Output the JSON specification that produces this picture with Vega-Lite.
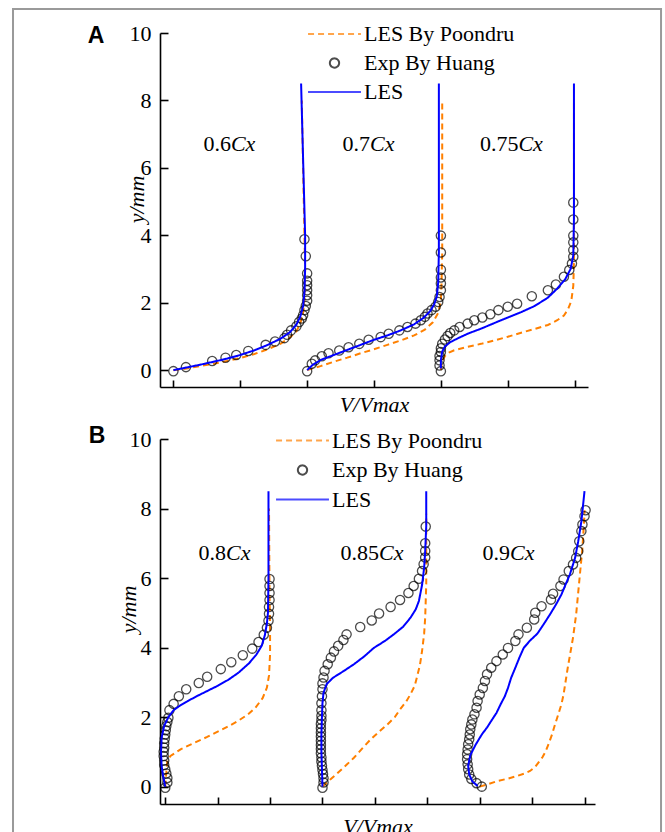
{
"$schema": "https://vega.github.io/schema/vega-lite/v6.json",
"padding": {"left": 12, "top": 7, "right": 0, "bottom": 0},
"spacing": 52,
"bounds": "flush",
"config": {
  "view": {"stroke": null},
  "font": "Liberation Serif",
  "axis": {"domainColor": "black", "domainWidth": 1.6, "tickColor": "black", "tickWidth": 1.6, "grid": false,
    "labelFont": "Liberation Serif", "labelFontSize": 22, "labelColor": "black",
    "titleFont": "Liberation Serif", "titleFontSize": 22, "titleFontStyle": "italic", "titleFontWeight": "normal", "titleColor": "black"},
  "legend": {"labelFont": "Liberation Serif", "labelFontSize": 22, "labelColor": "black", "labelLimit": 400,
    "symbolStrokeWidth": 2, "symbolSize": 2800, "padding": 0, "rowPadding": 1.5, "clipHeight": 28, "labelOffset": 2}
},
"resolve": {"scale": {"color": "independent", "shape": "independent", "strokeDash": "independent", "x": "independent", "y": "independent"}},
"datasets": {
"A": [
{"c":"0.6","s":"LES By Poondru","x":0,"y":0},{"c":"0.6","s":"LES By Poondru","x":0.1,"y":0.05},{"c":"0.6","s":"LES By Poondru","x":0.2,"y":0.12},{"c":"0.6","s":"LES By Poondru","x":0.3,"y":0.19},{"c":"0.6","s":"LES By Poondru","x":0.4,"y":0.27},{"c":"0.6","s":"LES By Poondru","x":0.5,"y":0.36},{"c":"0.6","s":"LES By Poondru","x":0.6,"y":0.47},{"c":"0.6","s":"LES By Poondru","x":0.7,"y":0.61},{"c":"0.6","s":"LES By Poondru","x":0.8,"y":0.78},{"c":"0.6","s":"LES By Poondru","x":0.87,"y":0.96},{"c":"0.6","s":"LES By Poondru","x":0.92,"y":1.15},{"c":"0.6","s":"LES By Poondru","x":0.95,"y":1.4},{"c":"0.6","s":"LES By Poondru","x":0.97,"y":1.7},{"c":"0.6","s":"LES By Poondru","x":0.98,"y":2.1},{"c":"0.6","s":"LES By Poondru","x":0.985,"y":3},{"c":"0.6","s":"LES By Poondru","x":0.98,"y":4},{"c":"0.6","s":"LES By Poondru","x":0.96,"y":8},
{"c":"0.7","s":"LES By Poondru","x":1.0,"y":0},{"c":"0.7","s":"LES By Poondru","x":1.1,"y":0.12},{"c":"0.7","s":"LES By Poondru","x":1.2,"y":0.25},{"c":"0.7","s":"LES By Poondru","x":1.3,"y":0.37},{"c":"0.7","s":"LES By Poondru","x":1.4,"y":0.5},{"c":"0.7","s":"LES By Poondru","x":1.5,"y":0.62},{"c":"0.7","s":"LES By Poondru","x":1.6,"y":0.75},{"c":"0.7","s":"LES By Poondru","x":1.7,"y":0.88},{"c":"0.7","s":"LES By Poondru","x":1.8,"y":1.03},{"c":"0.7","s":"LES By Poondru","x":1.88,"y":1.2},{"c":"0.7","s":"LES By Poondru","x":1.94,"y":1.42},{"c":"0.7","s":"LES By Poondru","x":1.98,"y":1.7},{"c":"0.7","s":"LES By Poondru","x":2.0,"y":2.05},{"c":"0.7","s":"LES By Poondru","x":2.005,"y":2.6},{"c":"0.7","s":"LES By Poondru","x":2.01,"y":3.5},{"c":"0.7","s":"LES By Poondru","x":2.01,"y":8},
{"c":"0.75","s":"LES By Poondru","x":2.0,"y":0},{"c":"0.75","s":"LES By Poondru","x":2.005,"y":0.15},{"c":"0.75","s":"LES By Poondru","x":2.015,"y":0.3},{"c":"0.75","s":"LES By Poondru","x":2.03,"y":0.42},{"c":"0.75","s":"LES By Poondru","x":2.06,"y":0.52},{"c":"0.75","s":"LES By Poondru","x":2.1,"y":0.59},{"c":"0.75","s":"LES By Poondru","x":2.2,"y":0.69},{"c":"0.75","s":"LES By Poondru","x":2.3,"y":0.78},{"c":"0.75","s":"LES By Poondru","x":2.4,"y":0.88},{"c":"0.75","s":"LES By Poondru","x":2.5,"y":0.99},{"c":"0.75","s":"LES By Poondru","x":2.6,"y":1.11},{"c":"0.75","s":"LES By Poondru","x":2.7,"y":1.22},{"c":"0.75","s":"LES By Poondru","x":2.8,"y":1.34},{"c":"0.75","s":"LES By Poondru","x":2.87,"y":1.48},{"c":"0.75","s":"LES By Poondru","x":2.92,"y":1.62},{"c":"0.75","s":"LES By Poondru","x":2.95,"y":1.8},{"c":"0.75","s":"LES By Poondru","x":2.975,"y":2.05},{"c":"0.75","s":"LES By Poondru","x":2.99,"y":2.5},{"c":"0.75","s":"LES By Poondru","x":2.995,"y":3.2},{"c":"0.75","s":"LES By Poondru","x":2.995,"y":8},
{"c":"0.6","s":"LES","x":0,"y":0},{"c":"0.6","s":"LES","x":0.1,"y":0.08},{"c":"0.6","s":"LES","x":0.2,"y":0.16},{"c":"0.6","s":"LES","x":0.3,"y":0.25},{"c":"0.6","s":"LES","x":0.4,"y":0.34},{"c":"0.6","s":"LES","x":0.5,"y":0.45},{"c":"0.6","s":"LES","x":0.6,"y":0.58},{"c":"0.6","s":"LES","x":0.7,"y":0.74},{"c":"0.6","s":"LES","x":0.8,"y":0.93},{"c":"0.6","s":"LES","x":0.87,"y":1.12},{"c":"0.6","s":"LES","x":0.92,"y":1.35},{"c":"0.6","s":"LES","x":0.95,"y":1.6},{"c":"0.6","s":"LES","x":0.97,"y":1.9},{"c":"0.6","s":"LES","x":0.98,"y":2.3},{"c":"0.6","s":"LES","x":0.985,"y":3},{"c":"0.6","s":"LES","x":0.985,"y":4},{"c":"0.6","s":"LES","x":0.955,"y":8.5},
{"c":"0.7","s":"LES","x":1.0,"y":0},{"c":"0.7","s":"LES","x":1.04,"y":0.15},{"c":"0.7","s":"LES","x":1.1,"y":0.3},{"c":"0.7","s":"LES","x":1.2,"y":0.45},{"c":"0.7","s":"LES","x":1.3,"y":0.6},{"c":"0.7","s":"LES","x":1.4,"y":0.75},{"c":"0.7","s":"LES","x":1.5,"y":0.9},{"c":"0.7","s":"LES","x":1.6,"y":1.03},{"c":"0.7","s":"LES","x":1.7,"y":1.18},{"c":"0.7","s":"LES","x":1.8,"y":1.36},{"c":"0.7","s":"LES","x":1.87,"y":1.55},{"c":"0.7","s":"LES","x":1.92,"y":1.75},{"c":"0.7","s":"LES","x":1.95,"y":1.95},{"c":"0.7","s":"LES","x":1.97,"y":2.2},{"c":"0.7","s":"LES","x":1.98,"y":2.6},{"c":"0.7","s":"LES","x":1.985,"y":3.5},{"c":"0.7","s":"LES","x":1.985,"y":8.5},
{"c":"0.75","s":"LES","x":2.0,"y":0.05},{"c":"0.75","s":"LES","x":2.0,"y":0.3},{"c":"0.75","s":"LES","x":2.01,"y":0.55},{"c":"0.75","s":"LES","x":2.03,"y":0.7},{"c":"0.75","s":"LES","x":2.07,"y":0.83},{"c":"0.75","s":"LES","x":2.13,"y":0.95},{"c":"0.75","s":"LES","x":2.2,"y":1.08},{"c":"0.75","s":"LES","x":2.3,"y":1.23},{"c":"0.75","s":"LES","x":2.45,"y":1.48},{"c":"0.75","s":"LES","x":2.6,"y":1.72},{"c":"0.75","s":"LES","x":2.7,"y":1.9},{"c":"0.75","s":"LES","x":2.8,"y":2.15},{"c":"0.75","s":"LES","x":2.87,"y":2.42},{"c":"0.75","s":"LES","x":2.93,"y":2.7},{"c":"0.75","s":"LES","x":2.97,"y":3.0},{"c":"0.75","s":"LES","x":2.99,"y":3.4},{"c":"0.75","s":"LES","x":2.995,"y":4.5},{"c":"0.75","s":"LES","x":2.995,"y":8.5},
{"c":"0.6","s":"Exp By Huang","x":0,"y":-0.03},{"c":"0.6","s":"Exp By Huang","x":0.094,"y":0.09},{"c":"0.6","s":"Exp By Huang","x":0.29,"y":0.27},{"c":"0.6","s":"Exp By Huang","x":0.39,"y":0.37},{"c":"0.6","s":"Exp By Huang","x":0.47,"y":0.45},{"c":"0.6","s":"Exp By Huang","x":0.56,"y":0.57},{"c":"0.6","s":"Exp By Huang","x":0.69,"y":0.75},{"c":"0.6","s":"Exp By Huang","x":0.76,"y":0.85},{"c":"0.6","s":"Exp By Huang","x":0.83,"y":0.95},{"c":"0.6","s":"Exp By Huang","x":0.85,"y":1.05},{"c":"0.6","s":"Exp By Huang","x":0.88,"y":1.18},{"c":"0.6","s":"Exp By Huang","x":0.92,"y":1.3},{"c":"0.6","s":"Exp By Huang","x":0.94,"y":1.43},{"c":"0.6","s":"Exp By Huang","x":0.96,"y":1.53},{"c":"0.6","s":"Exp By Huang","x":0.97,"y":1.63},{"c":"0.6","s":"Exp By Huang","x":0.98,"y":1.78},{"c":"0.6","s":"Exp By Huang","x":0.99,"y":1.9},{"c":"0.6","s":"Exp By Huang","x":1.0,"y":2.06},{"c":"0.6","s":"Exp By Huang","x":1.0,"y":2.22},{"c":"0.6","s":"Exp By Huang","x":1.0,"y":2.37},{"c":"0.6","s":"Exp By Huang","x":1.0,"y":2.52},{"c":"0.6","s":"Exp By Huang","x":1.0,"y":2.65},{"c":"0.6","s":"Exp By Huang","x":1.0,"y":2.87},{"c":"0.6","s":"Exp By Huang","x":0.99,"y":3.38},{"c":"0.6","s":"Exp By Huang","x":0.98,"y":3.88},
{"c":"0.7","s":"Exp By Huang","x":1.0,"y":-0.03},{"c":"0.7","s":"Exp By Huang","x":1.035,"y":0.19},{"c":"0.7","s":"Exp By Huang","x":1.06,"y":0.29},{"c":"0.7","s":"Exp By Huang","x":1.11,"y":0.41},{"c":"0.7","s":"Exp By Huang","x":1.16,"y":0.5},{"c":"0.7","s":"Exp By Huang","x":1.24,"y":0.58},{"c":"0.7","s":"Exp By Huang","x":1.31,"y":0.68},{"c":"0.7","s":"Exp By Huang","x":1.39,"y":0.78},{"c":"0.7","s":"Exp By Huang","x":1.46,"y":0.9},{"c":"0.7","s":"Exp By Huang","x":1.55,"y":0.98},{"c":"0.7","s":"Exp By Huang","x":1.61,"y":1.08},{"c":"0.7","s":"Exp By Huang","x":1.69,"y":1.18},{"c":"0.7","s":"Exp By Huang","x":1.75,"y":1.28},{"c":"0.7","s":"Exp By Huang","x":1.81,"y":1.38},{"c":"0.7","s":"Exp By Huang","x":1.85,"y":1.48},{"c":"0.7","s":"Exp By Huang","x":1.88,"y":1.58},{"c":"0.7","s":"Exp By Huang","x":1.9,"y":1.68},{"c":"0.7","s":"Exp By Huang","x":1.93,"y":1.78},{"c":"0.7","s":"Exp By Huang","x":1.96,"y":1.88},{"c":"0.7","s":"Exp By Huang","x":1.98,"y":2.02},{"c":"0.7","s":"Exp By Huang","x":1.99,"y":2.17},{"c":"0.7","s":"Exp By Huang","x":2.0,"y":2.37},{"c":"0.7","s":"Exp By Huang","x":2.0,"y":2.57},{"c":"0.7","s":"Exp By Huang","x":2.0,"y":2.75},{"c":"0.7","s":"Exp By Huang","x":2.0,"y":2.98},{"c":"0.7","s":"Exp By Huang","x":2.0,"y":3.49},{"c":"0.7","s":"Exp By Huang","x":2.0,"y":3.99},
{"c":"0.75","s":"Exp By Huang","x":2.0,"y":-0.03},{"c":"0.75","s":"Exp By Huang","x":1.99,"y":0.14},{"c":"0.75","s":"Exp By Huang","x":1.99,"y":0.29},{"c":"0.75","s":"Exp By Huang","x":1.99,"y":0.42},{"c":"0.75","s":"Exp By Huang","x":2.0,"y":0.54},{"c":"0.75","s":"Exp By Huang","x":2.0,"y":0.65},{"c":"0.75","s":"Exp By Huang","x":2.01,"y":0.78},{"c":"0.75","s":"Exp By Huang","x":2.03,"y":0.91},{"c":"0.75","s":"Exp By Huang","x":2.05,"y":1.01},{"c":"0.75","s":"Exp By Huang","x":2.07,"y":1.1},{"c":"0.75","s":"Exp By Huang","x":2.1,"y":1.18},{"c":"0.75","s":"Exp By Huang","x":2.14,"y":1.28},{"c":"0.75","s":"Exp By Huang","x":2.2,"y":1.38},{"c":"0.75","s":"Exp By Huang","x":2.25,"y":1.48},{"c":"0.75","s":"Exp By Huang","x":2.31,"y":1.56},{"c":"0.75","s":"Exp By Huang","x":2.37,"y":1.66},{"c":"0.75","s":"Exp By Huang","x":2.43,"y":1.78},{"c":"0.75","s":"Exp By Huang","x":2.5,"y":1.88},{"c":"0.75","s":"Exp By Huang","x":2.57,"y":1.97},{"c":"0.75","s":"Exp By Huang","x":2.68,"y":2.19},{"c":"0.75","s":"Exp By Huang","x":2.8,"y":2.37},{"c":"0.75","s":"Exp By Huang","x":2.86,"y":2.54},{"c":"0.75","s":"Exp By Huang","x":2.92,"y":2.77},{"c":"0.75","s":"Exp By Huang","x":2.96,"y":2.97},{"c":"0.75","s":"Exp By Huang","x":2.98,"y":3.16},{"c":"0.75","s":"Exp By Huang","x":2.99,"y":3.36},{"c":"0.75","s":"Exp By Huang","x":2.99,"y":3.56},{"c":"0.75","s":"Exp By Huang","x":2.99,"y":3.79},{"c":"0.75","s":"Exp By Huang","x":2.99,"y":3.99},{"c":"0.75","s":"Exp By Huang","x":2.99,"y":4.47},{"c":"0.75","s":"Exp By Huang","x":2.99,"y":4.97}
],
"B": [
{"c":"0.8","s":"LES By Poondru","x":0.0,"y":0},{"c":"0.8","s":"LES By Poondru","x":0.01,"y":0.4},{"c":"0.8","s":"LES By Poondru","x":0.02,"y":0.75},{"c":"0.8","s":"LES By Poondru","x":0.05,"y":0.88},{"c":"0.8","s":"LES By Poondru","x":0.15,"y":1.08},{"c":"0.8","s":"LES By Poondru","x":0.27,"y":1.25},{"c":"0.8","s":"LES By Poondru","x":0.4,"y":1.43},{"c":"0.8","s":"LES By Poondru","x":0.5,"y":1.58},{"c":"0.8","s":"LES By Poondru","x":0.6,"y":1.73},{"c":"0.8","s":"LES By Poondru","x":0.7,"y":1.9},{"c":"0.8","s":"LES By Poondru","x":0.79,"y":2.08},{"c":"0.8","s":"LES By Poondru","x":0.86,"y":2.27},{"c":"0.8","s":"LES By Poondru","x":0.93,"y":2.55},{"c":"0.8","s":"LES By Poondru","x":0.97,"y":2.85},{"c":"0.8","s":"LES By Poondru","x":0.99,"y":3.2},{"c":"0.8","s":"LES By Poondru","x":1.0,"y":3.8},{"c":"0.8","s":"LES By Poondru","x":1.0,"y":4.6},{"c":"0.8","s":"LES By Poondru","x":0.995,"y":5.5},{"c":"0.8","s":"LES By Poondru","x":0.99,"y":8.0},
{"c":"0.85","s":"LES By Poondru","x":1.5,"y":0},{"c":"0.85","s":"LES By Poondru","x":1.53,"y":0.08},{"c":"0.85","s":"LES By Poondru","x":1.58,"y":0.22},{"c":"0.85","s":"LES By Poondru","x":1.64,"y":0.38},{"c":"0.85","s":"LES By Poondru","x":1.72,"y":0.6},{"c":"0.85","s":"LES By Poondru","x":1.8,"y":0.83},{"c":"0.85","s":"LES By Poondru","x":1.88,"y":1.1},{"c":"0.85","s":"LES By Poondru","x":1.96,"y":1.36},{"c":"0.85","s":"LES By Poondru","x":2.04,"y":1.58},{"c":"0.85","s":"LES By Poondru","x":2.12,"y":1.79},{"c":"0.85","s":"LES By Poondru","x":2.19,"y":2.0},{"c":"0.85","s":"LES By Poondru","x":2.24,"y":2.22},{"c":"0.85","s":"LES By Poondru","x":2.3,"y":2.45},{"c":"0.85","s":"LES By Poondru","x":2.34,"y":2.66},{"c":"0.85","s":"LES By Poondru","x":2.38,"y":2.9},{"c":"0.85","s":"LES By Poondru","x":2.4,"y":3.13},{"c":"0.85","s":"LES By Poondru","x":2.43,"y":3.5},{"c":"0.85","s":"LES By Poondru","x":2.45,"y":3.9},{"c":"0.85","s":"LES By Poondru","x":2.47,"y":4.4},{"c":"0.85","s":"LES By Poondru","x":2.48,"y":4.86},{"c":"0.85","s":"LES By Poondru","x":2.49,"y":5.82},{"c":"0.85","s":"LES By Poondru","x":2.49,"y":7.25},{"c":"0.85","s":"LES By Poondru","x":2.49,"y":7.85},
{"c":"0.9","s":"LES By Poondru","x":3.0,"y":0},{"c":"0.9","s":"LES By Poondru","x":3.08,"y":0.07},{"c":"0.9","s":"LES By Poondru","x":3.17,"y":0.16},{"c":"0.9","s":"LES By Poondru","x":3.27,"y":0.23},{"c":"0.9","s":"LES By Poondru","x":3.36,"y":0.31},{"c":"0.9","s":"LES By Poondru","x":3.43,"y":0.38},{"c":"0.9","s":"LES By Poondru","x":3.48,"y":0.45},{"c":"0.9","s":"LES By Poondru","x":3.53,"y":0.57},{"c":"0.9","s":"LES By Poondru","x":3.56,"y":0.69},{"c":"0.9","s":"LES By Poondru","x":3.6,"y":0.85},{"c":"0.9","s":"LES By Poondru","x":3.63,"y":1.02},{"c":"0.9","s":"LES By Poondru","x":3.66,"y":1.25},{"c":"0.9","s":"LES By Poondru","x":3.69,"y":1.5},{"c":"0.9","s":"LES By Poondru","x":3.72,"y":1.8},{"c":"0.9","s":"LES By Poondru","x":3.75,"y":2.08},{"c":"0.9","s":"LES By Poondru","x":3.78,"y":2.37},{"c":"0.9","s":"LES By Poondru","x":3.8,"y":2.65},{"c":"0.9","s":"LES By Poondru","x":3.84,"y":3.42},{"c":"0.9","s":"LES By Poondru","x":3.89,"y":4.28},{"c":"0.9","s":"LES By Poondru","x":3.92,"y":4.95},{"c":"0.9","s":"LES By Poondru","x":3.95,"y":5.91},{"c":"0.9","s":"LES By Poondru","x":3.98,"y":6.87},{"c":"0.9","s":"LES By Poondru","x":4.0,"y":7.83},{"c":"0.9","s":"LES By Poondru","x":4.0,"y":7.95},
{"c":"0.8","s":"LES","x":0.0,"y":0},{"c":"0.8","s":"LES","x":-0.02,"y":0.3},{"c":"0.8","s":"LES","x":-0.035,"y":0.6},{"c":"0.8","s":"LES","x":-0.04,"y":1.0},{"c":"0.8","s":"LES","x":-0.035,"y":1.4},{"c":"0.8","s":"LES","x":-0.01,"y":1.75},{"c":"0.8","s":"LES","x":0.03,"y":2.0},{"c":"0.8","s":"LES","x":0.08,"y":2.2},{"c":"0.8","s":"LES","x":0.14,"y":2.33},{"c":"0.8","s":"LES","x":0.22,"y":2.47},{"c":"0.8","s":"LES","x":0.3,"y":2.6},{"c":"0.8","s":"LES","x":0.4,"y":2.75},{"c":"0.8","s":"LES","x":0.5,"y":2.9},{"c":"0.8","s":"LES","x":0.6,"y":3.07},{"c":"0.8","s":"LES","x":0.7,"y":3.28},{"c":"0.8","s":"LES","x":0.8,"y":3.55},{"c":"0.8","s":"LES","x":0.87,"y":3.8},{"c":"0.8","s":"LES","x":0.92,"y":4.05},{"c":"0.8","s":"LES","x":0.95,"y":4.35},{"c":"0.8","s":"LES","x":0.97,"y":4.7},{"c":"0.8","s":"LES","x":0.98,"y":5.0},{"c":"0.8","s":"LES","x":0.985,"y":6},{"c":"0.8","s":"LES","x":0.985,"y":8.5},
{"c":"0.85","s":"LES","x":1.5,"y":0},{"c":"0.85","s":"LES","x":1.495,"y":0.5},{"c":"0.85","s":"LES","x":1.49,"y":1.0},{"c":"0.85","s":"LES","x":1.49,"y":1.5},{"c":"0.85","s":"LES","x":1.495,"y":2.0},{"c":"0.85","s":"LES","x":1.5,"y":2.4},{"c":"0.85","s":"LES","x":1.51,"y":2.7},{"c":"0.85","s":"LES","x":1.54,"y":2.95},{"c":"0.85","s":"LES","x":1.6,"y":3.13},{"c":"0.85","s":"LES","x":1.7,"y":3.32},{"c":"0.85","s":"LES","x":1.8,"y":3.52},{"c":"0.85","s":"LES","x":1.9,"y":3.75},{"c":"0.85","s":"LES","x":1.99,"y":3.99},{"c":"0.85","s":"LES","x":2.1,"y":4.2},{"c":"0.85","s":"LES","x":2.18,"y":4.38},{"c":"0.85","s":"LES","x":2.27,"y":4.6},{"c":"0.85","s":"LES","x":2.34,"y":4.86},{"c":"0.85","s":"LES","x":2.39,"y":5.1},{"c":"0.85","s":"LES","x":2.42,"y":5.34},{"c":"0.85","s":"LES","x":2.45,"y":5.8},{"c":"0.85","s":"LES","x":2.47,"y":6.3},{"c":"0.85","s":"LES","x":2.48,"y":6.77},{"c":"0.85","s":"LES","x":2.49,"y":7.5},{"c":"0.85","s":"LES","x":2.49,"y":8.5},
{"c":"0.9","s":"LES","x":2.98,"y":0.02},{"c":"0.9","s":"LES","x":2.93,"y":0.15},{"c":"0.9","s":"LES","x":2.9,"y":0.35},{"c":"0.9","s":"LES","x":2.89,"y":0.6},{"c":"0.9","s":"LES","x":2.91,"y":0.9},{"c":"0.9","s":"LES","x":2.96,"y":1.2},{"c":"0.9","s":"LES","x":3.02,"y":1.5},{"c":"0.9","s":"LES","x":3.07,"y":1.7},{"c":"0.9","s":"LES","x":3.11,"y":1.89},{"c":"0.9","s":"LES","x":3.16,"y":2.12},{"c":"0.9","s":"LES","x":3.2,"y":2.37},{"c":"0.9","s":"LES","x":3.24,"y":2.6},{"c":"0.9","s":"LES","x":3.27,"y":2.84},{"c":"0.9","s":"LES","x":3.3,"y":3.13},{"c":"0.9","s":"LES","x":3.34,"y":3.42},{"c":"0.9","s":"LES","x":3.38,"y":3.72},{"c":"0.9","s":"LES","x":3.42,"y":3.99},{"c":"0.9","s":"LES","x":3.48,"y":4.2},{"c":"0.9","s":"LES","x":3.55,"y":4.4},{"c":"0.9","s":"LES","x":3.61,"y":4.67},{"c":"0.9","s":"LES","x":3.67,"y":4.95},{"c":"0.9","s":"LES","x":3.73,"y":5.25},{"c":"0.9","s":"LES","x":3.78,"y":5.53},{"c":"0.9","s":"LES","x":3.82,"y":5.82},{"c":"0.9","s":"LES","x":3.86,"y":6.1},{"c":"0.9","s":"LES","x":3.91,"y":6.58},{"c":"0.9","s":"LES","x":3.94,"y":7.06},{"c":"0.9","s":"LES","x":3.97,"y":7.63},{"c":"0.9","s":"LES","x":4.0,"y":8.5},
{"c":"0.8","s":"Exp By Huang","x":0.0,"y":-0.03},{"c":"0.8","s":"Exp By Huang","x":0.02,"y":0.12},{"c":"0.8","s":"Exp By Huang","x":0.02,"y":0.25},{"c":"0.8","s":"Exp By Huang","x":0.01,"y":0.38},{"c":"0.8","s":"Exp By Huang","x":0.0,"y":0.5},{"c":"0.8","s":"Exp By Huang","x":-0.01,"y":0.62},{"c":"0.8","s":"Exp By Huang","x":-0.01,"y":0.75},{"c":"0.8","s":"Exp By Huang","x":-0.015,"y":0.88},{"c":"0.8","s":"Exp By Huang","x":-0.015,"y":1.0},{"c":"0.8","s":"Exp By Huang","x":-0.01,"y":1.12},{"c":"0.8","s":"Exp By Huang","x":-0.01,"y":1.25},{"c":"0.8","s":"Exp By Huang","x":-0.005,"y":1.38},{"c":"0.8","s":"Exp By Huang","x":0.0,"y":1.5},{"c":"0.8","s":"Exp By Huang","x":0.005,"y":1.62},{"c":"0.8","s":"Exp By Huang","x":0.01,"y":1.74},{"c":"0.8","s":"Exp By Huang","x":0.02,"y":1.86},{"c":"0.8","s":"Exp By Huang","x":0.03,"y":1.98},{"c":"0.8","s":"Exp By Huang","x":0.04,"y":2.2},{"c":"0.8","s":"Exp By Huang","x":0.08,"y":2.38},{"c":"0.8","s":"Exp By Huang","x":0.13,"y":2.6},{"c":"0.8","s":"Exp By Huang","x":0.2,"y":2.8},{"c":"0.8","s":"Exp By Huang","x":0.32,"y":2.98},{"c":"0.8","s":"Exp By Huang","x":0.4,"y":3.16},{"c":"0.8","s":"Exp By Huang","x":0.53,"y":3.38},{"c":"0.8","s":"Exp By Huang","x":0.63,"y":3.58},{"c":"0.8","s":"Exp By Huang","x":0.74,"y":3.78},{"c":"0.8","s":"Exp By Huang","x":0.83,"y":3.97},{"c":"0.8","s":"Exp By Huang","x":0.89,"y":4.16},{"c":"0.8","s":"Exp By Huang","x":0.94,"y":4.37},{"c":"0.8","s":"Exp By Huang","x":0.97,"y":4.57},{"c":"0.8","s":"Exp By Huang","x":0.985,"y":4.77},{"c":"0.8","s":"Exp By Huang","x":0.99,"y":4.97},{"c":"0.8","s":"Exp By Huang","x":0.99,"y":5.17},{"c":"0.8","s":"Exp By Huang","x":0.995,"y":5.37},{"c":"0.8","s":"Exp By Huang","x":0.995,"y":5.57},{"c":"0.8","s":"Exp By Huang","x":0.995,"y":5.77},{"c":"0.8","s":"Exp By Huang","x":0.995,"y":5.97},
{"c":"0.85","s":"Exp By Huang","x":1.5,"y":-0.03},{"c":"0.85","s":"Exp By Huang","x":1.51,"y":0.12},{"c":"0.85","s":"Exp By Huang","x":1.51,"y":0.24},{"c":"0.85","s":"Exp By Huang","x":1.505,"y":0.36},{"c":"0.85","s":"Exp By Huang","x":1.5,"y":0.48},{"c":"0.85","s":"Exp By Huang","x":1.495,"y":0.6},{"c":"0.85","s":"Exp By Huang","x":1.49,"y":0.72},{"c":"0.85","s":"Exp By Huang","x":1.49,"y":0.84},{"c":"0.85","s":"Exp By Huang","x":1.485,"y":0.96},{"c":"0.85","s":"Exp By Huang","x":1.485,"y":1.08},{"c":"0.85","s":"Exp By Huang","x":1.485,"y":1.2},{"c":"0.85","s":"Exp By Huang","x":1.485,"y":1.32},{"c":"0.85","s":"Exp By Huang","x":1.485,"y":1.44},{"c":"0.85","s":"Exp By Huang","x":1.485,"y":1.56},{"c":"0.85","s":"Exp By Huang","x":1.485,"y":1.68},{"c":"0.85","s":"Exp By Huang","x":1.485,"y":1.8},{"c":"0.85","s":"Exp By Huang","x":1.49,"y":1.92},{"c":"0.85","s":"Exp By Huang","x":1.49,"y":2.04},{"c":"0.85","s":"Exp By Huang","x":1.49,"y":2.2},{"c":"0.85","s":"Exp By Huang","x":1.49,"y":2.4},{"c":"0.85","s":"Exp By Huang","x":1.495,"y":2.6},{"c":"0.85","s":"Exp By Huang","x":1.5,"y":2.8},{"c":"0.85","s":"Exp By Huang","x":1.5,"y":2.97},{"c":"0.85","s":"Exp By Huang","x":1.51,"y":3.14},{"c":"0.85","s":"Exp By Huang","x":1.52,"y":3.33},{"c":"0.85","s":"Exp By Huang","x":1.55,"y":3.52},{"c":"0.85","s":"Exp By Huang","x":1.58,"y":3.71},{"c":"0.85","s":"Exp By Huang","x":1.61,"y":3.89},{"c":"0.85","s":"Exp By Huang","x":1.65,"y":4.05},{"c":"0.85","s":"Exp By Huang","x":1.7,"y":4.22},{"c":"0.85","s":"Exp By Huang","x":1.73,"y":4.38},{"c":"0.85","s":"Exp By Huang","x":1.86,"y":4.59},{"c":"0.85","s":"Exp By Huang","x":1.97,"y":4.78},{"c":"0.85","s":"Exp By Huang","x":2.04,"y":4.98},{"c":"0.85","s":"Exp By Huang","x":2.15,"y":5.17},{"c":"0.85","s":"Exp By Huang","x":2.24,"y":5.37},{"c":"0.85","s":"Exp By Huang","x":2.32,"y":5.57},{"c":"0.85","s":"Exp By Huang","x":2.37,"y":5.77},{"c":"0.85","s":"Exp By Huang","x":2.42,"y":5.98},{"c":"0.85","s":"Exp By Huang","x":2.45,"y":6.2},{"c":"0.85","s":"Exp By Huang","x":2.465,"y":6.4},{"c":"0.85","s":"Exp By Huang","x":2.48,"y":6.59},{"c":"0.85","s":"Exp By Huang","x":2.48,"y":6.78},{"c":"0.85","s":"Exp By Huang","x":2.48,"y":7.0},{"c":"0.85","s":"Exp By Huang","x":2.485,"y":7.48},
{"c":"0.9","s":"Exp By Huang","x":3.02,"y":0.0},{"c":"0.9","s":"Exp By Huang","x":2.97,"y":0.1},{"c":"0.9","s":"Exp By Huang","x":2.92,"y":0.22},{"c":"0.9","s":"Exp By Huang","x":2.9,"y":0.35},{"c":"0.9","s":"Exp By Huang","x":2.89,"y":0.5},{"c":"0.9","s":"Exp By Huang","x":2.885,"y":0.64},{"c":"0.9","s":"Exp By Huang","x":2.88,"y":0.79},{"c":"0.9","s":"Exp By Huang","x":2.88,"y":0.93},{"c":"0.9","s":"Exp By Huang","x":2.885,"y":1.07},{"c":"0.9","s":"Exp By Huang","x":2.89,"y":1.22},{"c":"0.9","s":"Exp By Huang","x":2.9,"y":1.36},{"c":"0.9","s":"Exp By Huang","x":2.905,"y":1.5},{"c":"0.9","s":"Exp By Huang","x":2.91,"y":1.65},{"c":"0.9","s":"Exp By Huang","x":2.92,"y":1.79},{"c":"0.9","s":"Exp By Huang","x":2.93,"y":1.93},{"c":"0.9","s":"Exp By Huang","x":2.95,"y":2.08},{"c":"0.9","s":"Exp By Huang","x":2.97,"y":2.27},{"c":"0.9","s":"Exp By Huang","x":2.98,"y":2.46},{"c":"0.9","s":"Exp By Huang","x":3.0,"y":2.65},{"c":"0.9","s":"Exp By Huang","x":3.03,"y":2.84},{"c":"0.9","s":"Exp By Huang","x":3.05,"y":3.04},{"c":"0.9","s":"Exp By Huang","x":3.07,"y":3.23},{"c":"0.9","s":"Exp By Huang","x":3.11,"y":3.42},{"c":"0.9","s":"Exp By Huang","x":3.16,"y":3.61},{"c":"0.9","s":"Exp By Huang","x":3.22,"y":3.8},{"c":"0.9","s":"Exp By Huang","x":3.27,"y":3.99},{"c":"0.9","s":"Exp By Huang","x":3.34,"y":4.19},{"c":"0.9","s":"Exp By Huang","x":3.37,"y":4.38},{"c":"0.9","s":"Exp By Huang","x":3.45,"y":4.57},{"c":"0.9","s":"Exp By Huang","x":3.52,"y":4.81},{"c":"0.9","s":"Exp By Huang","x":3.53,"y":5.0},{"c":"0.9","s":"Exp By Huang","x":3.59,"y":5.19},{"c":"0.9","s":"Exp By Huang","x":3.68,"y":5.38},{"c":"0.9","s":"Exp By Huang","x":3.7,"y":5.55},{"c":"0.9","s":"Exp By Huang","x":3.77,"y":5.77},{"c":"0.9","s":"Exp By Huang","x":3.8,"y":5.96},{"c":"0.9","s":"Exp By Huang","x":3.85,"y":6.2},{"c":"0.9","s":"Exp By Huang","x":3.89,"y":6.39},{"c":"0.9","s":"Exp By Huang","x":3.92,"y":6.58},{"c":"0.9","s":"Exp By Huang","x":3.94,"y":6.77},{"c":"0.9","s":"Exp By Huang","x":3.95,"y":7.06},{"c":"0.9","s":"Exp By Huang","x":3.97,"y":7.35},{"c":"0.9","s":"Exp By Huang","x":3.98,"y":7.54},{"c":"0.9","s":"Exp By Huang","x":4.0,"y":7.78},{"c":"0.9","s":"Exp By Huang","x":4.01,"y":7.95}
]
},
"vconcat": [
{
  "width": 428, "height": 354,
  "layer": [
    {"data": {"name": "A"}, "transform": [{"filter": "datum.s === 'LES By Poondru'"}],
     "mark": {"type": "line", "strokeWidth": 2, "clip": false},
     "encoding": {
       "x": {"field": "x", "type": "quantitative", "scale": {"domain": [-0.1, 3.1], "nice": false, "zero": false},
         "axis": {"title": "V/Vmax", "values": [0, 0.5, 1, 1.5, 2, 2.5, 3], "labels": false, "tickSize": -7, "titleY": 17, "titleBaseline": "middle", "titleFont": "Liberation Serif"}},
       "y": {"field": "y", "type": "quantitative", "scale": {"domain": [-0.5, 10], "nice": false, "zero": false},
         "axis": {"title": "y/mm", "values": [0,1,2,3,4,5,6,7,8,9,10], "labelExpr": "datum.value % 2 === 0 ? datum.label : ''", "labelFont": "Liberation Serif",
           "tickSize": {"condition": {"test": "datum.value % 2 === 0", "value": -8}, "value": -4}, "labelPadding": 17,
           "titleX": -24, "titleY": 166, "titleAngle": -90, "titleAlign": "center", "titleBaseline": "middle", "titleFont": "Liberation Serif"}},
       "detail": {"field": "c"}, "order": {"value": null},
       "color": {"field": "s", "type": "nominal", "scale": {"domain": ["LES By Poondru", "Exp By Huang", "LES"], "range": ["#FF8000", "black", "#0000FF"]},
         "legend": {"orient": "none", "legendX": 147, "legendY": -13, "title": null, "clipHeight": 28, "rowPadding": 1}},
       "strokeDash": {"field": "s", "type": "nominal", "scale": {"domain": ["LES By Poondru", "Exp By Huang", "LES"], "range": [[6, 4], [1, 0], [1, 0]]},
         "legend": {"orient": "none", "legendX": 147, "legendY": -13, "title": null, "clipHeight": 28, "rowPadding": 1}}}},
    {"data": {"name": "A"}, "transform": [{"filter": "datum.s === 'Exp By Huang'"}],
     "mark": {"type": "point", "filled": false, "size": 2800, "strokeWidth": 1.3, "clip": false},
     "encoding": {
       "x": {"field": "x", "type": "quantitative"}, "y": {"field": "y", "type": "quantitative"},
       "color": {"field": "s", "type": "nominal", "scale": {"domain": ["LES By Poondru", "Exp By Huang", "LES"], "range": ["#FF8000", "black", "#0000FF"]},
         "legend": {"orient": "none", "legendX": 147, "legendY": -13, "title": null, "clipHeight": 28, "rowPadding": 1}},
       "shape": {"field": "s", "type": "nominal", "scale": {"domain": ["LES By Poondru", "Exp By Huang", "LES"], "range": ["stroke", "M0.175,0A0.175,0.175,0,1,1,-0.175,0A0.175,0.175,0,1,1,0.175,0Z", "stroke"]},
         "legend": {"orient": "none", "legendX": 147, "legendY": -13, "title": null, "clipHeight": 28, "rowPadding": 1}}}},
    {"data": {"name": "A"}, "transform": [{"filter": "datum.s === 'LES'"}],
     "mark": {"type": "line", "strokeWidth": 2, "clip": false},
     "encoding": {
       "x": {"field": "x", "type": "quantitative"}, "y": {"field": "y", "type": "quantitative"},
       "detail": {"field": "c"}, "order": {"value": null},
       "color": {"field": "s", "type": "nominal", "scale": {"domain": ["LES By Poondru", "Exp By Huang", "LES"], "range": ["#FF8000", "black", "#0000FF"]},
         "legend": {"orient": "none", "legendX": 147, "legendY": -13, "title": null, "clipHeight": 28, "rowPadding": 1}},
       "strokeDash": {"field": "s", "type": "nominal", "scale": {"domain": ["LES By Poondru", "Exp By Huang", "LES"], "range": [[6, 4], [1, 0], [1, 0]]},
         "legend": {"orient": "none", "legendX": 147, "legendY": -13, "title": null, "clipHeight": 28, "rowPadding": 1}}}},
    {"data": {"values": [{"n": "0.6", "it": "Cx", "x": 0.43, "y": 6.7}, {"n": "0.7", "it": "Cx", "x": 1.47, "y": 6.7}, {"n": "0.75", "it": "Cx", "x": 2.58, "y": 6.7}]},
     "mark": {"type": "text", "align": "right", "baseline": "middle", "font": "Liberation Serif", "fontSize": 22, "color": "black", "clip": false},
     "encoding": {"x": {"field": "x", "type": "quantitative"}, "y": {"field": "y", "type": "quantitative"}, "text": {"field": "n"}}},
    {"data": {"values": [{"n": "0.6", "it": "Cx", "x": 0.43, "y": 6.7}, {"n": "0.7", "it": "Cx", "x": 1.47, "y": 6.7}, {"n": "0.75", "it": "Cx", "x": 2.58, "y": 6.7}]},
     "mark": {"type": "text", "align": "left", "baseline": "middle", "font": "Liberation Serif", "fontStyle": "italic", "fontSize": 22, "color": "black", "clip": false},
     "encoding": {"x": {"field": "x", "type": "quantitative"}, "y": {"field": "y", "type": "quantitative"}, "text": {"field": "it"}}},
    {"data": {"values": [{"k": 1}]}, "mark": {"type": "rect", "clip": false, "fillOpacity": 0, "stroke": "#9a9a9a", "strokeWidth": 2},
     "encoding": {"x": {"datum": -1.199}, "x2": {"datum": 3.646}, "y": {"datum": 10.712}, "y2": {"datum": -14.26}}},
    {"data": {"values": [{"k": 1}]},
     "mark": {"type": "text", "text": "A", "align": "center", "baseline": "middle", "font": "Liberation Sans", "fontWeight": "bold", "fontSize": 23, "color": "black", "clip": false},
     "encoding": {"x": {"datum": -0.578}, "y": {"datum": 9.91}}}
  ]
},
{
  "width": 435, "height": 365,
  "layer": [
    {"data": {"name": "B"}, "transform": [{"filter": "datum.s === 'LES By Poondru'"}],
     "mark": {"type": "line", "strokeWidth": 2, "clip": false},
     "encoding": {
       "x": {"field": "x", "type": "quantitative", "scale": {"domain": [-0.05, 4.1], "nice": false, "zero": false},
         "axis": {"title": "V/Vmax", "values": [0, 0.5, 1, 1.5, 2, 2.5, 3, 3.5, 4], "labels": false, "tickSize": -7, "titleY": 22, "titleBaseline": "middle", "titleFont": "Liberation Serif"}},
       "y": {"field": "y", "type": "quantitative", "scale": {"domain": [-0.5, 10], "nice": false, "zero": false},
         "axis": {"title": "y/mm", "values": [0,1,2,3,4,5,6,7,8,9,10], "labelExpr": "datum.value % 2 === 0 ? datum.label : ''", "labelFont": "Liberation Serif",
           "tickSize": {"condition": {"test": "datum.value % 2 === 0", "value": -8}, "value": -4}, "labelPadding": 17,
           "titleX": -32, "titleY": 170, "titleAngle": -90, "titleAlign": "center", "titleBaseline": "middle", "titleFont": "Liberation Serif"}},
       "detail": {"field": "c"}, "order": {"value": null},
       "color": {"field": "s", "type": "nominal", "scale": {"domain": ["LES By Poondru", "Exp By Huang", "LES"], "range": ["#FF8000", "black", "#0000FF"]},
         "legend": {"orient": "none", "legendX": 115, "legendY": -13, "title": null, "clipHeight": 29, "rowPadding": 0.5}},
       "strokeDash": {"field": "s", "type": "nominal", "scale": {"domain": ["LES By Poondru", "Exp By Huang", "LES"], "range": [[6, 4], [1, 0], [1, 0]]},
         "legend": {"orient": "none", "legendX": 115, "legendY": -13, "title": null, "clipHeight": 29, "rowPadding": 0.5}}}},
    {"data": {"name": "B"}, "transform": [{"filter": "datum.s === 'Exp By Huang'"}],
     "mark": {"type": "point", "filled": false, "size": 2800, "strokeWidth": 1.3, "clip": false},
     "encoding": {
       "x": {"field": "x", "type": "quantitative"}, "y": {"field": "y", "type": "quantitative"},
       "color": {"field": "s", "type": "nominal", "scale": {"domain": ["LES By Poondru", "Exp By Huang", "LES"], "range": ["#FF8000", "black", "#0000FF"]},
         "legend": {"orient": "none", "legendX": 115, "legendY": -13, "title": null, "clipHeight": 29, "rowPadding": 0.5}},
       "shape": {"field": "s", "type": "nominal", "scale": {"domain": ["LES By Poondru", "Exp By Huang", "LES"], "range": ["stroke", "M0.175,0A0.175,0.175,0,1,1,-0.175,0A0.175,0.175,0,1,1,0.175,0Z", "stroke"]},
         "legend": {"orient": "none", "legendX": 115, "legendY": -13, "title": null, "clipHeight": 29, "rowPadding": 0.5}}}},
    {"data": {"name": "B"}, "transform": [{"filter": "datum.s === 'LES'"}],
     "mark": {"type": "line", "strokeWidth": 2, "clip": false},
     "encoding": {
       "x": {"field": "x", "type": "quantitative"}, "y": {"field": "y", "type": "quantitative"},
       "detail": {"field": "c"}, "order": {"value": null},
       "color": {"field": "s", "type": "nominal", "scale": {"domain": ["LES By Poondru", "Exp By Huang", "LES"], "range": ["#FF8000", "black", "#0000FF"]},
         "legend": {"orient": "none", "legendX": 115, "legendY": -13, "title": null, "clipHeight": 29, "rowPadding": 0.5}},
       "strokeDash": {"field": "s", "type": "nominal", "scale": {"domain": ["LES By Poondru", "Exp By Huang", "LES"], "range": [[6, 4], [1, 0], [1, 0]]},
         "legend": {"orient": "none", "legendX": 115, "legendY": -13, "title": null, "clipHeight": 29, "rowPadding": 0.5}}}},
    {"data": {"values": [{"n": "0.8", "it": "Cx", "x": 0.58, "y": 6.72}, {"n": "0.85", "it": "Cx", "x": 2.04, "y": 6.72}, {"n": "0.9", "it": "Cx", "x": 3.29, "y": 6.72}]},
     "mark": {"type": "text", "align": "right", "baseline": "middle", "font": "Liberation Serif", "fontSize": 22, "color": "black", "clip": false},
     "encoding": {"x": {"field": "x", "type": "quantitative"}, "y": {"field": "y", "type": "quantitative"}, "text": {"field": "n"}}},
    {"data": {"values": [{"n": "0.8", "it": "Cx", "x": 0.58, "y": 6.72}, {"n": "0.85", "it": "Cx", "x": 2.04, "y": 6.72}, {"n": "0.9", "it": "Cx", "x": 3.29, "y": 6.72}]},
     "mark": {"type": "text", "align": "left", "baseline": "middle", "font": "Liberation Serif", "fontStyle": "italic", "fontSize": 22, "color": "black", "clip": false},
     "encoding": {"x": {"field": "x", "type": "quantitative"}, "y": {"field": "y", "type": "quantitative"}, "text": {"field": "it"}}},
    {"data": {"values": [{"k": 1}]},
     "mark": {"type": "text", "text": "B", "align": "center", "baseline": "middle", "font": "Liberation Sans", "fontWeight": "bold", "fontSize": 23, "color": "black", "clip": false},
     "encoding": {"x": {"datum": -0.651}, "y": {"datum": 10.086}}}
  ]
}
]
}
